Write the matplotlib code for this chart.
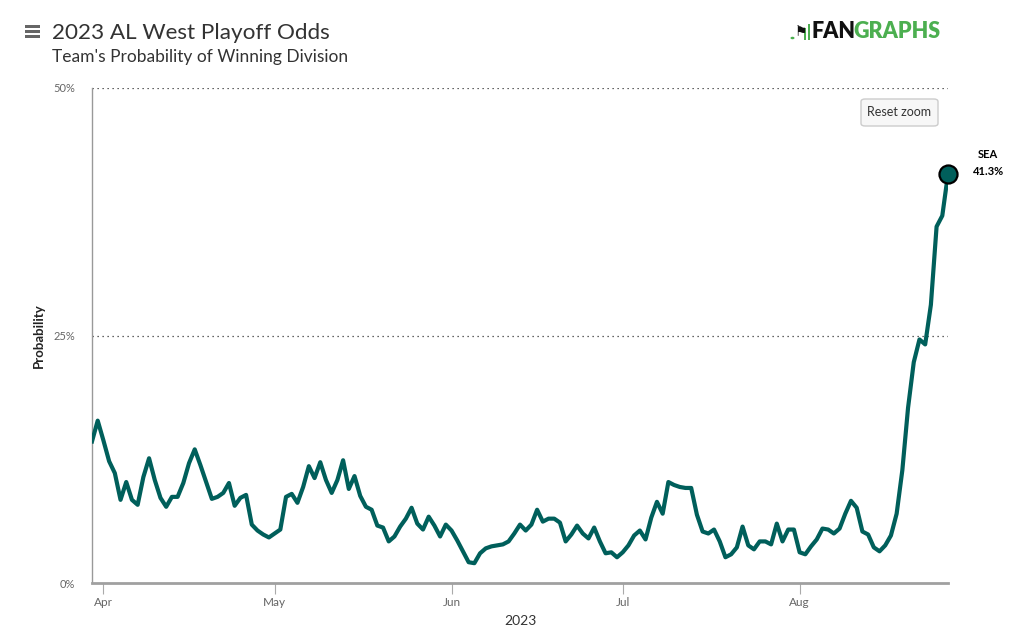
import matplotlib.pyplot as plt
import matplotlib.dates as mdates
from matplotlib.patches import FancyBboxPatch, Rectangle, Circle
import pandas as pd

plt.rcParams['font.family'] = ['Lato', 'DejaVu Sans']

start_date = '2023-03-30'
team = 'SEA'
# daily probability of winning the division (%)
sea_odds = [14.3, 16.4, 14.4, 12.3, 11.1, 8.4, 10.2, 8.4, 7.9, 10.7,
            12.6, 10.4, 8.6, 7.7, 8.7, 8.7, 10.1, 12.1, 13.5, 11.9,
            10.2, 8.5, 8.7, 9.1, 10.1, 7.8, 8.6, 8.9, 5.9, 5.3,
            4.9, 4.6, 5.0, 5.4, 8.7, 9.0, 8.1, 9.7, 11.8, 10.6,
            12.2, 10.4, 9.1, 10.4, 12.4, 9.5, 10.8, 8.8, 7.7, 7.4,
            5.8, 5.6, 4.2, 4.7, 5.7, 6.5, 7.6, 6.0, 5.4, 6.7,
            5.8, 4.7, 5.9, 5.3, 4.3, 3.2, 2.1, 2.0, 3.0, 3.5,
            3.7, 3.8, 3.9, 4.2, 5.0, 5.9, 5.3, 5.9, 7.4, 6.2,
            6.5, 6.5, 6.1, 4.2, 4.9, 5.8, 5.0, 4.5, 5.6, 4.2,
            3.0, 3.1, 2.6, 3.1, 3.8, 4.8, 5.3, 4.4, 6.6, 8.2,
            7.0, 10.2, 9.9, 9.7, 9.6, 9.6, 6.9, 5.2, 5.0, 5.4,
            4.2, 2.6, 2.9, 3.6, 5.7, 3.8, 3.4, 4.2, 4.2, 3.9,
            6.0, 4.2, 5.4, 5.4, 3.1, 2.9, 3.7, 4.4, 5.5, 5.4,
            5.0, 5.5, 7.0, 8.3, 7.6, 5.2, 4.9, 3.6, 3.2, 3.8,
            4.8, 7.0, 11.4, 17.7, 22.3, 24.6, 24.1, 28.1, 36.0, 37.1,
            41.3]
y_ticks = [0, 25, 50]
y_tick_labels = ['0%', '25%', '50%']

dates = pd.date_range(start_date, periods=len(sea_odds), freq='D')
teal = '#005f5b'
green = '#4caf50'
W, H = 1020, 644

fig = plt.figure(figsize=(W / 100, H / 100), dpi=100)
ax = fig.add_axes([92 / W, 61 / H, 856 / W, 495 / H])

ax.plot(dates, sea_odds, color=teal, lw=3.0, solid_joinstyle='round', zorder=3)
ax.plot(dates[-1], sea_odds[-1], 'o', ms=13, mfc=teal, mec='black', mew=1.6,
        zorder=4, clip_on=False)
ax.annotate(f'{team}\n{sea_odds[-1]:.1f}%', (dates[-1], sea_odds[-1]),
            xytext=(29, 8), textcoords='offset points', ha='center', va='center',
            fontsize=8, fontweight='bold', linespacing=1.6, annotation_clip=False)

ax.set_xlim(dates[0], dates[-1])
ax.set_ylim(0, 50)

for yv in y_ticks[1:]:
    ax.axhline(yv, color='#333333', lw=0.9, ls=(0, (1, 3)), zorder=1)

ax.set_yticks(y_ticks)
ax.set_yticklabels(y_tick_labels)
ax.tick_params(axis='y', length=0, pad=12, labelsize=8, labelcolor='#666666')
ax.xaxis.set_major_locator(mdates.MonthLocator())
ax.xaxis.set_major_formatter(mdates.DateFormatter('%b'))
ax.tick_params(axis='x', length=8, width=0.8, color='#aaaaaa', pad=2,
               labelsize=8.5, labelcolor='#666666')

for s in ['top', 'right']:
    ax.spines[s].set_visible(False)
ax.spines['left'].set_color('#999999')
ax.spines['left'].set_linewidth(1.0)
ax.spines['bottom'].set_color('#a0a0a0')
ax.spines['bottom'].set_linewidth(2.0)

ax.set_ylabel('Probability', fontsize=9.5, fontweight='bold', color='#222222', labelpad=6)
ax.set_xlabel('2023', fontsize=10, color='#333333', labelpad=5)

# header
fig.text(52 / W, 1 - 33 / H, '2023 AL West Playoff Odds', fontsize=16.2,
         color='#333333', va='center', ha='left')
fig.text(52 / W, 1 - 57 / H, "Team's Probability of Winning Division",
         fontsize=12.5, color='#333333', va='center', ha='left')
for yy in [26.5, 31.5, 36.5]:
    fig.patches.append(Rectangle((25 / W, 1 - (yy + 1.5) / H), 15 / W, 3 / H,
                                 transform=fig.transFigure, fc='#666666', lw=0))

# logo
fig.patches.append(Circle((792.5 / W, 1 - 38 / H), 2 / W, transform=fig.transFigure,
                          fc=green, lw=0))
for bx, bh in [(804, 12), (808, 16)]:
    fig.patches.append(Rectangle((bx / W, 1 - 40 / H), 2.5 / W, bh / H,
                                 transform=fig.transFigure, fc=green, lw=0))
fig.text(795 / W, 1 - 32 / H, '\u2691', fontsize=10, color='#111111',
         va='center', ha='left', family=['DejaVu Sans'])
t_fan = fig.text(812 / W, 1 - 32 / H, 'FAN', fontsize=15.5, fontweight='heavy',
                 color='#111111', va='center', ha='left')
fig.canvas.draw()
bb = t_fan.get_window_extent()
fig.text((bb.x1 - 3) / W, 1 - 32 / H, 'GRAPHS', fontsize=15.5, fontweight='heavy',
         color=green, va='center', ha='left')

# reset zoom button
btn = FancyBboxPatch((861 / W, 1 - 126 / H), 77 / W, 27 / H,
                     boxstyle='round,pad=0,rounding_size=0.004',
                     transform=fig.transFigure, fc='#f7f7f7', ec='#cccccc', lw=1)
fig.patches.append(btn)
fig.text(899 / W, 1 - 112 / H, 'Reset zoom', fontsize=9, color='#333333',
         ha='center', va='center')

fig.savefig('out.png', dpi=100)
